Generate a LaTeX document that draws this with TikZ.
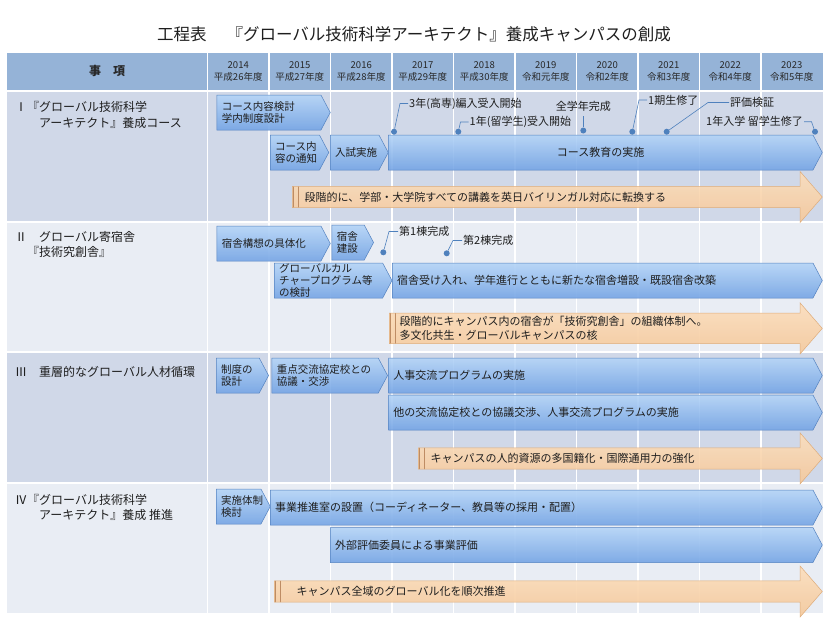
\documentclass[tikz,border=0pt]{standalone}
\usepackage{fontspec}
\setmainfont{Noto Sans CJK JP}
\usepackage{xcolor}
\definecolor{hdr}{RGB}{149,179,215}
\definecolor{rowa}{RGB}{208,216,232}
\definecolor{rowb}{RGB}{233,237,244}
\definecolor{ink}{RGB}{30,30,30}
\definecolor{hdrink}{RGB}{40,40,40}
\definecolor{tasktop}{RGB}{180,212,247}
\definecolor{taskbot}{RGB}{116,164,228}
\definecolor{taskline}{RGB}{84,130,192}
\definecolor{notetop}{RGB}{252,222,188}
\definecolor{notebot}{RGB}{245,200,154}
\definecolor{noteline}{RGB}{222,172,122}
\definecolor{stripec}{RGB}{190,140,100}
\definecolor{dotc}{RGB}{79,129,189}
\usepackage{tikz}
\usetikzlibrary{
    shapes.symbols,
    shapes.arrows
}

\begin{document}
\begin{tikzpicture}[x=1pt, y=-1pt,
        hdrtext/.style={font=\fontsize{9.5}{12}\selectfont, text=hdrink, align=center},
        sec/.style={anchor=north west, align=left, inner sep=0pt, font=\fontsize{12}{15.5}\selectfont, text=ink},
        task/.style={signal, signal to=east, signal pointer angle=124, draw=taskline, line width=0.5pt, top color=tasktop, bottom color=taskbot, fill opacity=0.9, text opacity=1, anchor=west, minimum height=35, minimum width=#1, text width=#1-19, align=left, inner xsep=2pt, inner ysep=0pt, font=\fontsize{10.5}{12.5}\selectfont, text=ink},
        wide/.style={font=\fontsize{11}{13}\selectfont},
        stripe/.style={draw=stripec, line width=1.2pt},
        note/.style={single arrow, single arrow head extend=9pt, single arrow tip angle=98, draw=noteline, line width=0.5pt, top color=notetop, bottom color=notebot, fill opacity=0.9, text opacity=1, anchor=tail, minimum width=51, minimum height=#1, text width=#1-34, align=left, inner xsep=2pt, inner ysep=1pt, font=\fontsize{11}{14}\selectfont, text=ink,
            path picture={
                \draw[stripe] ([xshift=1.5pt]path picture bounding box.north west) -- ([xshift=1.5pt]path picture bounding box.south west);
                \draw[stripe] ([xshift=6.5pt]path picture bounding box.north west) -- ([xshift=6.5pt]path picture bounding box.south west);
            }},
        dot/.style={circle, fill=dotc, inner sep=0pt, minimum size=6},
        mile/.style={inner sep=1pt, font=\fontsize{11}{13}\selectfont, text=ink},
        lead/.style={draw=dotc, line width=0.6pt}
    ]
        \useasboundingbox (0,0) rectangle (840,630);

        % title and header
        \node[font=\fontsize{16.5}{20}\selectfont, text=ink] (title) at (414,34) {工程表\hspace{20pt}『グローバル技術科学アーキテクト』養成キャンパスの創成};
        \fill[hdr] (7,52.5) rectangle (822.5,90);
        \node[font=\fontsize{12}{14}\selectfont\bfseries, text=hdrink] (item) at (107,71) {事　項};
        \foreach \yr/\era [count=\i from 0] in {2014/平成26年度, 2015/平成27年度, 2016/平成28年度, 2017/平成29年度, 2018/平成30年度, 2019/令和元年度, 2020/令和2年度, 2021/令和3年度, 2022/令和4年度, 2023/令和5年度} {
            \node[hdrtext] (y\yr) at ({238.25+61.5*\i},71) {\yr\\\era};
        }

        % rows and grid
        \fill[rowa] (7,92) rectangle (822.5,220.5);
        \fill[rowb] (7,222.5) rectangle (822.5,351);
        \fill[rowa] (7,353) rectangle (822.5,481.5);
        \fill[rowb] (7,483.5) rectangle (822.5,613);
        \foreach \i in {0,...,9} {
            \draw[white, line width=1.2pt] ({207.5+61.5*\i},52.5) -- ({207.5+61.5*\i},613);
        }

        \node[sec] (sec1) at (15,101.5) {Ⅰ『グローバル技術科学\\　　アーキテクト』養成コース};
        \node[sec] (sec2) at (15,231) {Ⅱ　グローバル寄宿舎\\　『技術究創舎』};
        \node[sec] (sec3) at (15,366.5) {Ⅲ　重層的なグローバル人材循環};
        \node[sec] (sec4) at (15,494) {Ⅳ『グローバル技術科学\\　　アーキテクト』養成 推進};

        % I
        \node[task=113.3] (plan) at (216.7,112.5) {コース内容検討\\学内制度設計};
        \node[task=58.5] (notice) at (270,152.5) {コース内\\容の通知};
        \node[task=58] (exam) at (330,152.5) {入試実施};
        \node[task=434, wide, align=center] (course) at (388,152.5) {コース教育の実施};
        \node[note=530] (bilingual) at (292,197) {段階的に、学部・大学院すべての講義を英日バイリンガル対応に転換する};

        \node[dot] (d1) at (394,131.7) {};
        \node[mile, anchor=west] (m1) at (408,103.5) {3年(高専)編入受入開始};
        \draw[lead] (d1) -- ([xshift=-8pt]m1.west) -- (m1.west);
        \node[dot] (d2) at (458.3,131.7) {};
        \node[mile, anchor=west] (m2) at (468.5,122) {1年(留学生)受入開始};
        \draw[lead] (d2) -- ([xshift=-8pt]m2.west) -- (m2.west);
        \node[dot] (d3) at (583.3,130.5) {};
        \node[mile] (m3) at (583.3,106.5) {全学年完成};
        \draw[lead] (d3) -- ([yshift=-3pt]m3.south);
        \node[dot] (d4) at (632.3,131.7) {};
        \node[mile, anchor=west] (m4) at (647,100) {1期生修了};
        \draw[lead] (d4) -- ([xshift=-8pt]m4.west) -- (m4.west);
        \node[dot] (d5) at (666.7,131.7) {};
        \node[mile, anchor=west] (m5) at (729,102.5) {評価検証};
        \draw[lead] (d5) -- ([xshift=-21pt]m5.west) -- (m5.west);
        \node[dot] (d6) at (815,131.7) {};
        \node[mile, anchor=east] (m6) at (804,121.7) {1年入学 留学生修了};
        \draw[lead] (d6) -- ([xshift=7.5pt]m6.east) -- (m6.east);

        % II
        \node[task=113.3] (dormplan) at (216.7,243.5) {宿舎構想の具体化};
        \node[task=41.6] (dormbuild) at (331.7,242.5) {宿舎\\建設};
        \node[task=117.7, font=\fontsize{10.5}{12}\selectfont] (culture) at (274,280.5) {グローバルカル\\チャープログラム等\\の検討};
        \node[task=430, wide] (dormrun) at (392,280.5) {宿舎受け入れ、学年進行とともに新たな宿舎増設・既設宿舎改築};
        \node[note=433] (dormcore) at (389,328.4) {段階的にキャンパス内の宿舎が「技術究創舎」の組織体制へ。\\多文化共生・グローバルキャンパスの核};

        \node[dot] (d7) at (383.3,252.3) {};
        \node[mile, anchor=west] (m7) at (398,231.5) {第1棟完成};
        \draw[lead] (d7) -- ([xshift=-9pt]m7.west) -- (m7.west);
        \node[dot] (d8) at (446.7,253.3) {};
        \node[mile, anchor=west] (m8) at (462,240.5) {第2棟完成};
        \draw[lead] (d8) -- ([xshift=-9pt]m8.west) -- (m8.west);

        % III
        \node[task=52.3] (sysdesign) at (216,375.5) {制度の\\設計};
        \node[task=115.6] (partner) at (271.7,375.5) {重点交流協定校との\\協議・交渉};
        \node[task=433.7, wide] (exchange) at (388.3,375.5) {人事交流プログラムの実施};
        \node[task=433.7, wide] (otherex) at (388.3,412.5) {他の交流協定校との協議交渉、人事交流プログラムの実施};
        \node[note=404] (diversity) at (418,458.4) {キャンパスの人的資源の多国籍化・国際通用力の強化};

        % IV
        \node[task=54] (setup) at (216,506.5) {実施体制\\検討};
        \node[task=552, wide] (office) at (270,507.5) {事業推進室の設置（コーディネーター、教員等の採用・配置）};
        \node[task=492, wide] (review) at (330,545) {外部評価委員による事業評価};
        \node[note=548, text width=494] (campus) at (274,591.5) {キャンパス全域のグローバル化を順次推進};
\end{tikzpicture}
\end{document}
